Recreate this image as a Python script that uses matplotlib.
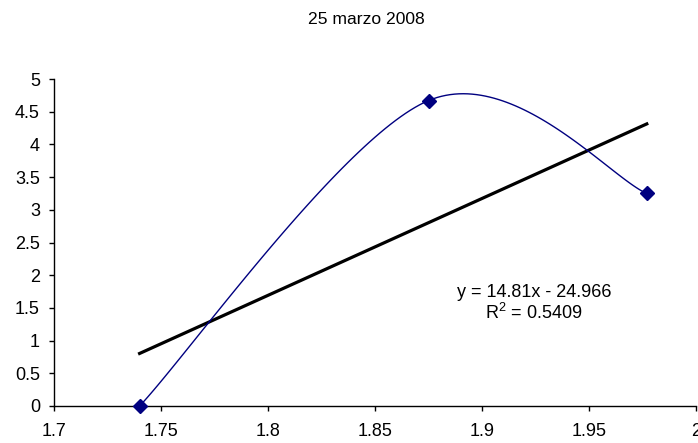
import numpy as np
import matplotlib
matplotlib.use('Agg')
import matplotlib.pyplot as plt

plt.rcParams['font.family'] = ['Liberation Sans', 'DejaVu Sans']
plt.rcParams['mathtext.fontset'] = 'custom'
plt.rcParams['mathtext.rm'] = 'Liberation Sans'

# data
x = [1.74, 1.875, 1.977]
y = [0.0, 4.67, 3.25]
slope = 14.81
intercept = -24.966
title = '25 marzo 2008'
eq_label = 'y = 14.81x - 24.966\nR$^2$ = 0.5409'
xticks = [1.7, 1.75, 1.8, 1.85, 1.9, 1.95, 2.0]
xticklabels = ['1.7', '1.75', '1.8', '1.85', '1.9', '1.95', '2']
yticks = [0, 0.5, 1, 1.5, 2, 2.5, 3, 3.5, 4, 4.5, 5]
yticklabels = ['0', '0.5', '1', '1.5', '2', '2.5', '3', '3.5', '4', '4.5', '5']


def smooth(px, py, n=60):
    # excel-like smoothed line: cubic bezier, catmull-rom style control points
    p = np.column_stack([px, py])
    p = np.vstack([p[0], p, p[-1]])
    out = []
    t = np.linspace(0, 1, n)[:, None]
    for i in range(1, len(p) - 2):
        p0, p1, p2, p3 = p[i - 1], p[i], p[i + 1], p[i + 2]
        c1 = p1 + (p2 - p0) / 6
        c2 = p2 - (p3 - p1) / 6
        b = (1 - t) ** 3 * p1 + 3 * (1 - t) ** 2 * t * c1 + 3 * (1 - t) * t ** 2 * c2 + t ** 3 * p2
        out.append(b)
    out = np.vstack(out)
    return out[:, 0], out[:, 1]


fig = plt.figure(figsize=(6.98, 4.43), dpi=100)
ax = fig.add_axes([54 / 698, 37 / 443, 642 / 698, 327 / 443])

sx, sy = smooth(x, y)
ax.plot(sx, sy, color='#000080', linewidth=1.0, zorder=3)
ax.plot(x, y, linestyle='none', marker='D', markersize=7, color='#000080', zorder=4, clip_on=False)

tx = np.array([min(x), max(x)])
ax.plot(tx, slope * tx + intercept, color='black', linewidth=2.3, zorder=2)

ax.set_xlim(1.7, 2.0)
ax.set_ylim(0, 5)
ax.set_xticks(xticks)
ax.set_xticklabels(xticklabels)
ax.set_yticks(yticks)
ax.set_yticklabels(yticklabels)
ax.tick_params(axis='both', direction='out', length=3.6, width=1, labelsize=13, colors='black')
ax.tick_params(axis='x', pad=9)
ax.tick_params(axis='y', pad=6.5)
for s in ['top', 'right']:
    ax.spines[s].set_visible(False)
for s in ['left', 'bottom']:
    ax.spines[s].set_linewidth(1)

fig.text(366 / 698, 1 - 20 / 443, title, ha='center', va='center', fontsize=12.6)
ax.text(1.9243, 1.567, eq_label, ha='center', va='center', fontsize=13, linespacing=1.1)

plt.savefig('out.png', dpi=100)
